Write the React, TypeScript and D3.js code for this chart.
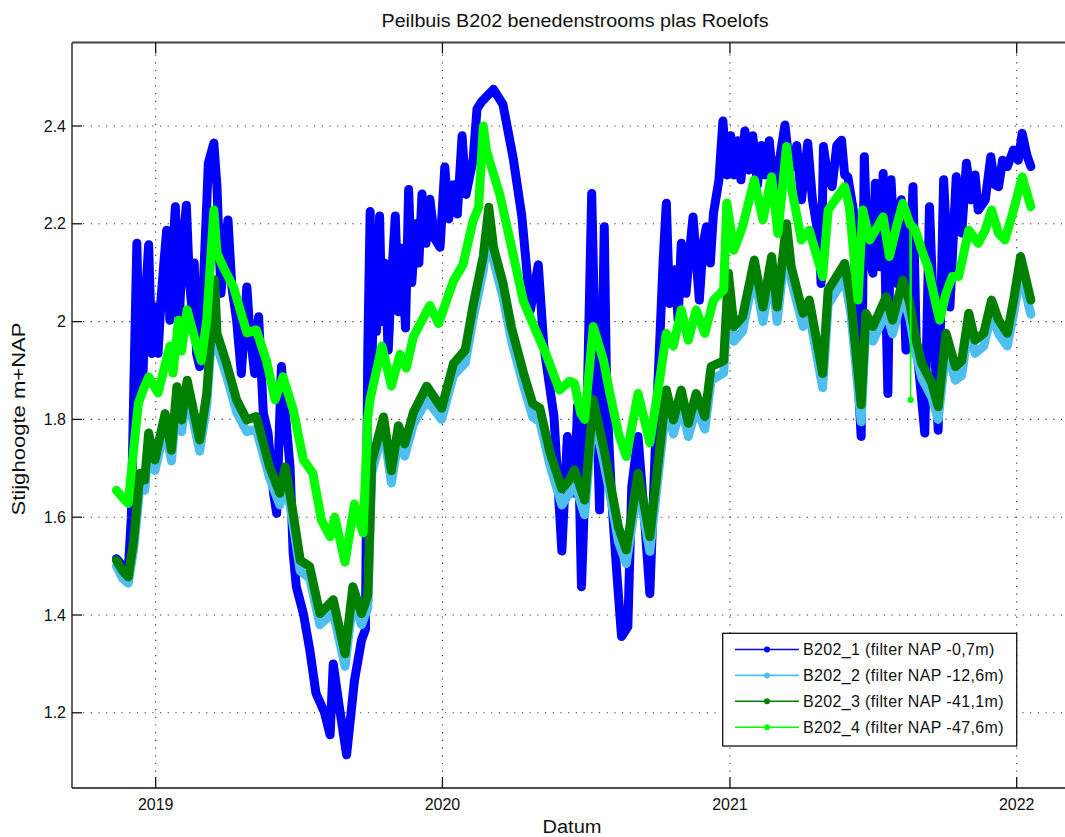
import React, { useEffect, useRef } from 'react'
import * as d3 from 'd3'

const WIDTH = 1065
const HEIGHT = 837

const title = 'Peilbuis B202 benedenstrooms plas Roelofs'
const xLabel = 'Datum'
const yLabel = 'Stijghoogte m+NAP'
const yTicks = [1.2, 1.4, 1.6, 1.8, 2, 2.2, 2.4]
const xTicks = ['2019-01-01', '2020-01-01', '2021-01-01', '2022-01-01']
const seriesNames = [
  'B202_1 (filter NAP -0,7m)',
  'B202_2 (filter NAP -12,6m)',
  'B202_3 (filter NAP -41,1m)',
  'B202_4 (filter NAP -47,6m)'
]
const seriesColors = ['#0000ff', '#4dbeee', '#007f00', '#00ff00']

// B202_1 (ondiep) - veel pieken
const b202_1: [string, number][] = [
  ['2018-11-12', 1.515], ['2018-11-20', 1.50], ['2018-11-27', 1.49], ['2018-12-01', 1.60],
  ['2018-12-04', 1.853], ['2018-12-08', 2.16], ['2018-12-12', 1.867], ['2018-12-16', 1.90],
  ['2018-12-19', 2.05], ['2018-12-23', 2.157], ['2018-12-27', 1.935], ['2018-12-31', 2.03],
  ['2019-01-04', 1.935], ['2019-01-08', 2.05], ['2019-01-11', 2.112], ['2019-01-15', 2.187],
  ['2019-01-19', 2.003], ['2019-01-22', 2.12], ['2019-01-26', 2.235], ['2019-01-31', 2.003],
  ['2019-02-04', 2.15], ['2019-02-09', 2.238], ['2019-02-13', 2.08], ['2019-02-16', 2.03],
  ['2019-02-19', 2.12], ['2019-02-22', 1.935], ['2019-02-26', 1.908], ['2019-03-02', 2.05],
  ['2019-03-07', 2.242], ['2019-03-09', 2.324], ['2019-03-16', 2.365], ['2019-03-20', 2.276],
  ['2019-03-25', 2.058], ['2019-04-03', 2.208], ['2019-04-08', 2.071], ['2019-04-14', 2.003],
  ['2019-04-20', 1.894], ['2019-04-27', 2.071], ['2019-05-01', 1.976], ['2019-05-07', 1.894],
  ['2019-05-12', 2.01], ['2019-05-18', 1.813], ['2019-05-24', 1.772], ['2019-05-31', 1.649],
  ['2019-06-04', 1.608], ['2019-06-10', 1.908], ['2019-06-15', 1.813], ['2019-06-21', 1.703],
  ['2019-06-25', 1.526], ['2019-06-29', 1.458], ['2019-07-08', 1.403], ['2019-07-16', 1.33],
  ['2019-07-24', 1.24], ['2019-08-04', 1.20], ['2019-08-11', 1.155], ['2019-08-15', 1.30],
  ['2019-08-22', 1.22], ['2019-09-01', 1.114], ['2019-09-11', 1.266], ['2019-09-20', 1.349],
  ['2019-09-25', 1.37], ['2019-09-28', 1.942], ['2019-10-01', 2.225], ['2019-10-03', 1.90],
  ['2019-10-06', 2.10], ['2019-10-09', 1.98], ['2019-10-13', 2.216], ['2019-10-16', 2.00],
  ['2019-10-19', 2.12], ['2019-10-24', 1.942], ['2019-10-28', 2.08], ['2019-11-02', 2.216],
  ['2019-11-06', 2.02], ['2019-11-10', 2.15], ['2019-11-15', 1.987], ['2019-11-19', 2.27],
  ['2019-11-23', 2.08], ['2019-11-28', 2.20], ['2019-12-02', 2.12], ['2019-12-06', 2.261],
  ['2019-12-11', 2.16], ['2019-12-16', 2.25], ['2019-12-22', 2.17], ['2019-12-29', 2.152],
  ['2020-01-04', 2.316], ['2020-01-09', 2.21], ['2020-01-15', 2.28], ['2020-01-20', 2.22],
  ['2020-01-26', 2.38], ['2020-01-31', 2.26], ['2020-02-05', 2.30], ['2020-02-09', 2.33],
  ['2020-02-14', 2.435], ['2020-02-20', 2.45], ['2020-03-06', 2.475], ['2020-03-18', 2.444],
  ['2020-03-31', 2.335], ['2020-04-11', 2.216], ['2020-04-22', 2.024], ['2020-05-02', 2.116],
  ['2020-05-09', 1.951], ['2020-05-22', 1.805], ['2020-06-01', 1.531], ['2020-06-08', 1.765],
  ['2020-06-17', 1.649], ['2020-06-21', 1.828], ['2020-06-26', 1.458], ['2020-07-02', 1.737],
  ['2020-07-09', 2.262], ['2020-07-13', 1.976], ['2020-07-19', 1.615], ['2020-07-25', 2.194],
  ['2020-07-28', 1.853], ['2020-08-03', 1.649], ['2020-08-10', 1.485], ['2020-08-16', 1.356],
  ['2020-08-24', 1.376], ['2020-08-29', 1.662], ['2020-09-06', 1.765], ['2020-09-15', 1.58],
  ['2020-09-21', 1.444], ['2020-09-29', 1.785], ['2020-10-08', 2.126], ['2020-10-12', 2.242],
  ['2020-10-16', 2.037], ['2020-10-23', 2.106], ['2020-10-27', 2.003], ['2020-10-31', 2.16],
  ['2020-11-06', 2.058], ['2020-11-11', 2.15], ['2020-11-15', 2.214], ['2020-11-23', 2.044],
  ['2020-11-28', 2.16], ['2020-12-02', 2.194], ['2020-12-07', 2.12], ['2020-12-11', 2.221],
  ['2020-12-18', 2.29], ['2020-12-23', 2.41], ['2020-12-28', 2.30], ['2021-01-02', 2.38],
  ['2021-01-06', 2.30], ['2021-01-11', 2.37], ['2021-01-15', 2.29], ['2021-01-20', 2.39],
  ['2021-01-25', 2.31], ['2021-01-30', 2.38], ['2021-02-05', 2.28], ['2021-02-10', 2.36],
  ['2021-02-15', 2.30], ['2021-02-20', 2.37], ['2021-02-27', 2.249], ['2021-03-05', 2.33],
  ['2021-03-12', 2.402], ['2021-03-17', 2.33], ['2021-03-22', 2.317], ['2021-03-27', 2.36],
  ['2021-04-02', 2.249], ['2021-04-10', 2.365], ['2021-04-16', 2.249], ['2021-04-25', 2.16],
  ['2021-04-27', 2.078], ['2021-04-30', 2.358], ['2021-05-05', 2.30], ['2021-05-11', 2.276],
  ['2021-05-17', 2.36], ['2021-05-23', 2.371], ['2021-05-27', 2.30], ['2021-05-31', 2.296],
  ['2021-06-07', 2.228], ['2021-06-13', 1.887], ['2021-06-17', 1.765], ['2021-06-21', 2.337],
  ['2021-06-25', 2.146], ['2021-07-02', 2.099], ['2021-07-05', 2.283], ['2021-07-11', 2.112],
  ['2021-07-15', 2.303], ['2021-07-21', 1.853], ['2021-07-25', 2.29], ['2021-08-01', 2.078],
  ['2021-08-07', 2.249], ['2021-08-13', 1.942], ['2021-08-22', 2.276], ['2021-08-26', 1.962],
  ['2021-09-06', 1.772], ['2021-09-12', 2.235], ['2021-09-18', 1.976], ['2021-09-23', 1.778],
  ['2021-09-30', 2.29], ['2021-10-08', 2.03], ['2021-10-16', 2.296], ['2021-10-23', 2.181],
  ['2021-10-29', 2.324], ['2021-11-04', 2.249], ['2021-11-09', 2.30], ['2021-11-13', 2.228],
  ['2021-11-22', 2.249], ['2021-11-29', 2.337], ['2021-12-04', 2.28], ['2021-12-09', 2.276],
  ['2021-12-14', 2.33], ['2021-12-20', 2.317], ['2021-12-28', 2.351], ['2022-01-03', 2.33],
  ['2022-01-08', 2.385], ['2022-01-14', 2.34], ['2022-01-19', 2.317]
]

// B202_2
const b202_2: [string, number][] = [
  ['2018-11-12', 1.50], ['2018-11-20', 1.475], ['2018-11-27', 1.465], ['2018-12-04', 1.535],
  ['2018-12-12', 1.665], ['2018-12-18', 1.655], ['2018-12-23', 1.745], ['2018-12-31', 1.695],
  ['2019-01-13', 1.785], ['2019-01-21', 1.715], ['2019-01-28', 1.84], ['2019-02-03', 1.775],
  ['2019-02-10', 1.855], ['2019-02-26', 1.735], ['2019-03-07', 1.83], ['2019-03-17', 2.06],
  ['2019-03-20', 1.95], ['2019-04-01', 1.89], ['2019-04-14', 1.815], ['2019-04-27', 1.775],
  ['2019-05-09', 1.78], ['2019-05-26', 1.68], ['2019-06-08', 1.625], ['2019-06-15', 1.68],
  ['2019-06-23', 1.605], ['2019-07-04', 1.49], ['2019-07-16', 1.475], ['2019-07-29', 1.38],
  ['2019-08-15', 1.405], ['2019-08-30', 1.295], ['2019-09-09', 1.43], ['2019-09-20', 1.38],
  ['2019-09-28', 1.415], ['2019-10-03', 1.69], ['2019-10-18', 1.78], ['2019-10-28', 1.67],
  ['2019-11-06', 1.76], ['2019-11-14', 1.725], ['2019-11-25', 1.79], ['2019-12-12', 1.84],
  ['2019-12-31', 1.80], ['2020-01-15', 1.89], ['2020-01-30', 1.915], ['2020-02-09', 2.005],
  ['2020-02-22', 2.105], ['2020-02-29', 2.20], ['2020-03-06', 2.125], ['2020-03-18', 2.05],
  ['2020-03-29', 1.96], ['2020-04-13', 1.87], ['2020-04-25', 1.805], ['2020-05-04', 1.795],
  ['2020-05-17', 1.705], ['2020-06-01', 1.625], ['2020-06-11', 1.65], ['2020-06-17', 1.67],
  ['2020-06-30', 1.605], ['2020-07-11', 1.815], ['2020-07-24', 1.715], ['2020-08-01', 1.65],
  ['2020-08-12', 1.55], ['2020-08-22', 1.505], ['2020-09-06', 1.665], ['2020-09-15', 1.585],
  ['2020-09-21', 1.53], ['2020-10-02', 1.69], ['2020-10-12', 1.83], ['2020-10-21', 1.77],
  ['2020-10-31', 1.83], ['2020-11-09', 1.765], ['2020-11-19', 1.825], ['2020-11-30', 1.78],
  ['2020-12-08', 1.88], ['2020-12-24', 1.895], ['2020-12-30', 2.07], ['2021-01-06', 1.96],
  ['2021-01-17', 1.98], ['2021-02-01', 2.10], ['2021-02-12', 2.00], ['2021-02-23', 2.105],
  ['2021-03-02', 2.00], ['2021-03-14', 2.17], ['2021-03-20', 2.085], ['2021-04-04', 1.99],
  ['2021-04-12', 2.015], ['2021-04-29', 1.865], ['2021-05-06', 2.035], ['2021-05-27', 2.09],
  ['2021-06-04', 2.015], ['2021-06-17', 1.795], ['2021-06-23', 1.99], ['2021-07-02', 1.96],
  ['2021-07-19', 2.02], ['2021-07-27', 1.975], ['2021-08-09', 2.055], ['2021-08-18', 2.005],
  ['2021-08-25', 1.94], ['2021-09-02', 1.885], ['2021-09-15', 1.845], ['2021-09-23', 1.80],
  ['2021-10-03', 1.945], ['2021-10-15', 1.88], ['2021-10-23', 1.89], ['2021-11-01', 1.99],
  ['2021-11-09', 1.935], ['2021-11-20', 1.95], ['2021-11-30', 2.015], ['2021-12-09', 1.975],
  ['2021-12-20', 1.95], ['2021-12-28', 2.015], ['2022-01-06', 2.10], ['2022-01-19', 2.015]
]

// B202_3
const b202_3: [string, number][] = [
  ['2018-11-12', 1.512], ['2018-11-20', 1.49], ['2018-11-27', 1.478], ['2018-12-04', 1.553],
  ['2018-12-12', 1.69], ['2018-12-18', 1.676], ['2018-12-23', 1.772], ['2018-12-31', 1.717],
  ['2019-01-13', 1.812], ['2019-01-21', 1.737], ['2019-01-28', 1.867], ['2019-02-03', 1.799],
  ['2019-02-10', 1.88], ['2019-02-26', 1.758], ['2019-03-07', 1.853], ['2019-03-17', 2.085],
  ['2019-03-20', 1.976], ['2019-04-01', 1.915], ['2019-04-14', 1.84], ['2019-04-27', 1.799],
  ['2019-05-09', 1.806], ['2019-05-26', 1.703], ['2019-06-08', 1.649], ['2019-06-15', 1.703],
  ['2019-06-23', 1.628], ['2019-07-04', 1.512], ['2019-07-16', 1.499], ['2019-07-29', 1.403],
  ['2019-08-15', 1.431], ['2019-08-30', 1.321], ['2019-09-09', 1.458], ['2019-09-20', 1.403],
  ['2019-09-28', 1.44], ['2019-10-03', 1.713], ['2019-10-18', 1.805], ['2019-10-28', 1.695],
  ['2019-11-06', 1.787], ['2019-11-14', 1.75], ['2019-11-25', 1.814], ['2019-12-12', 1.868],
  ['2019-12-31', 1.823], ['2020-01-15', 1.914], ['2020-01-30', 1.942], ['2020-02-09', 2.033],
  ['2020-02-22', 2.134], ['2020-02-29', 2.234], ['2020-03-06', 2.152], ['2020-03-18', 2.079],
  ['2020-03-29', 1.987], ['2020-04-13', 1.896], ['2020-04-25', 1.832], ['2020-05-04', 1.823],
  ['2020-05-17', 1.732], ['2020-06-01', 1.658], ['2020-06-11', 1.677], ['2020-06-17', 1.697],
  ['2020-06-30', 1.635], ['2020-07-11', 1.84], ['2020-07-24', 1.744], ['2020-08-01', 1.676],
  ['2020-08-12', 1.58], ['2020-08-22', 1.533], ['2020-09-06', 1.69], ['2020-09-15', 1.615],
  ['2020-09-21', 1.56], ['2020-10-02', 1.717], ['2020-10-12', 1.86], ['2020-10-21', 1.799],
  ['2020-10-31', 1.86], ['2020-11-09', 1.792], ['2020-11-19', 1.853], ['2020-11-30', 1.806],
  ['2020-12-08', 1.908], ['2020-12-24', 1.92], ['2020-12-30', 2.099], ['2021-01-06', 1.99],
  ['2021-01-17', 2.01], ['2021-02-01', 2.126], ['2021-02-12', 2.03], ['2021-02-23', 2.133],
  ['2021-03-02', 2.03], ['2021-03-14', 2.20], ['2021-03-20', 2.112], ['2021-04-04', 2.017],
  ['2021-04-12', 2.044], ['2021-04-29', 1.894], ['2021-05-06', 2.065], ['2021-05-27', 2.119],
  ['2021-06-04', 2.044], ['2021-06-17', 1.83], ['2021-06-23', 2.017], ['2021-07-02', 1.99],
  ['2021-07-19', 2.051], ['2021-07-27', 2.003], ['2021-08-09', 2.085], ['2021-08-18', 2.037],
  ['2021-08-25', 1.969], ['2021-09-02', 1.915], ['2021-09-15', 1.874], ['2021-09-23', 1.826],
  ['2021-10-03', 1.976], ['2021-10-15', 1.908], ['2021-10-23', 1.92], ['2021-11-01', 2.017],
  ['2021-11-09', 1.962], ['2021-11-20', 1.976], ['2021-11-30', 2.044], ['2021-12-09', 2.003],
  ['2021-12-20', 1.976], ['2021-12-28', 2.044], ['2022-01-06', 2.133], ['2022-01-19', 2.044]
]

// B202_4
const b202_4: [string, number][] = [
  ['2018-11-12', 1.655], ['2018-11-20', 1.64], ['2018-11-27', 1.628], ['2018-12-04', 1.74],
  ['2018-12-10', 1.833], ['2018-12-16', 1.86], ['2018-12-23', 1.887], ['2019-01-04', 1.854],
  ['2019-01-19', 1.95], ['2019-01-23', 1.895], ['2019-01-30', 2.003], ['2019-02-03', 1.94],
  ['2019-02-10', 2.024], ['2019-02-24', 1.94], ['2019-02-28', 1.92], ['2019-03-07', 2.003],
  ['2019-03-16', 2.228], ['2019-03-20', 2.14], ['2019-03-30', 2.105], ['2019-04-10', 2.071],
  ['2019-04-27', 1.977], ['2019-05-09', 1.983], ['2019-05-22', 1.92], ['2019-06-02', 1.84],
  ['2019-06-12', 1.887], ['2019-06-25', 1.82], ['2019-07-08', 1.717], ['2019-07-20', 1.69],
  ['2019-07-31', 1.594], ['2019-08-11', 1.56], ['2019-08-17', 1.60], ['2019-08-30', 1.508],
  ['2019-09-11', 1.627], ['2019-09-22', 1.568], ['2019-09-28', 1.805], ['2019-10-01', 1.842],
  ['2019-10-16', 1.95], ['2019-10-28', 1.868], ['2019-11-08', 1.933], ['2019-11-16', 1.905],
  ['2019-11-25', 1.969], ['2019-12-16', 2.033], ['2019-12-27', 1.996], ['2020-01-15', 2.083],
  ['2020-01-27', 2.116], ['2020-02-09', 2.206], ['2020-02-16', 2.234], ['2020-02-22', 2.40],
  ['2020-02-26', 2.35], ['2020-03-14', 2.26], ['2020-03-29', 2.152], ['2020-04-13', 2.042],
  ['2020-04-25', 1.996], ['2020-05-12', 1.933], ['2020-05-29', 1.86], ['2020-06-11', 1.878],
  ['2020-06-17', 1.874], ['2020-06-25', 1.813], ['2020-06-30', 1.80], ['2020-07-11', 1.99],
  ['2020-07-24', 1.921], ['2020-08-01', 1.854], ['2020-08-12', 1.772], ['2020-08-22', 1.724],
  ['2020-09-06', 1.853], ['2020-09-15', 1.793], ['2020-09-21', 1.752], ['2020-10-04', 1.887],
  ['2020-10-12', 1.976], ['2020-10-21', 1.95], ['2020-10-31', 2.024], ['2020-11-09', 1.962],
  ['2020-11-19', 2.024], ['2020-11-30', 1.976], ['2020-12-11', 2.044], ['2020-12-24', 2.065],
  ['2020-12-28', 2.242], ['2021-01-06', 2.146], ['2021-01-17', 2.194], ['2021-02-01', 2.29],
  ['2021-02-12', 2.208], ['2021-02-23', 2.296], ['2021-03-03', 2.18], ['2021-03-14', 2.358],
  ['2021-03-20', 2.276], ['2021-04-02', 2.167], ['2021-04-12', 2.187], ['2021-04-29', 2.092],
  ['2021-05-06', 2.228], ['2021-05-27', 2.276], ['2021-06-02', 2.235], ['2021-06-13', 2.044],
  ['2021-06-19', 2.228], ['2021-06-28', 2.167], ['2021-07-15', 2.214], ['2021-07-23', 2.133],
  ['2021-08-01', 2.194], ['2021-08-09', 2.242], ['2021-08-18', 2.20], ['2021-08-25', 2.187],
  ['2021-09-02', 2.146], ['2021-09-10', 2.112], ['2021-09-19', 2.044], ['2021-09-25', 2.003],
  ['2021-10-03', 2.058], ['2021-10-11', 2.092], ['2021-10-19', 2.092], ['2021-11-01', 2.187],
  ['2021-11-13', 2.16], ['2021-11-22', 2.187], ['2021-11-30', 2.228], ['2021-12-09', 2.18],
  ['2021-12-17', 2.167], ['2021-12-28', 2.228], ['2022-01-08', 2.296], ['2022-01-19', 2.235]
]

// losse uitschieter in B202_4
const b202_4Spike: [string, number][] = [['2021-08-18', 2.20], ['2021-08-19', 1.84], ['2021-08-20', 2.19]]

const FONT = '"Liberation Sans", Arial, Helvetica, sans-serif'

function App() {
  const ref = useRef<SVGSVGElement | null>(null)

  useEffect(() => {
    const node = ref.current
    if (!node) return
    const vis = d3.select(node)
    vis.selectAll('*').remove()

    const MARGINS = { left: 72, top: 42.5, right: 1080, bottom: 788 }
    const parse = d3.utcParse('%Y-%m-%d')

    const xRange = d3.scaleUtc()
      .domain([parse('2019-01-01') as Date, parse('2022-01-01') as Date])
      .range([155.7, 1016.7])
    const yRange = d3.scaleLinear().domain([1.2, 2.4]).range([712.8, 126])

    vis.append('defs').append('clipPath').attr('id', 'plotclip')
      .append('rect')
      .attr('x', MARGINS.left).attr('y', MARGINS.top)
      .attr('width', MARGINS.right - MARGINS.left).attr('height', MARGINS.bottom - MARGINS.top)

    // grid
    const grid = vis.append('g').attr('stroke', '#333').attr('stroke-width', 1.1).attr('stroke-dasharray', '1.2,6.5')
    yTicks.forEach(t => {
      grid.append('line')
        .attr('x1', MARGINS.left + 11).attr('x2', MARGINS.right)
        .attr('y1', yRange(t)).attr('y2', yRange(t))
    })
    xTicks.forEach(t => {
      const xp = xRange(parse(t) as Date)
      grid.append('line')
        .attr('x1', xp).attr('x2', xp)
        .attr('y1', MARGINS.top + 12).attr('y2', MARGINS.bottom - 11)
    })

    // series
    const valueline = d3.line<[string, number]>()
      .x(d => xRange(parse(d[0]) as Date))
      .y(d => yRange(d[1]))

    const plot = vis.append('g').attr('clip-path', 'url(#plotclip)')
    const allSeries = [b202_1, b202_2, b202_3, b202_4]
    allSeries.forEach((data, i) => {
      plot.append('path')
        .datum(data)
        .attr('d', valueline)
        .attr('fill', 'none')
        .attr('stroke', seriesColors[i])
        .attr('stroke-width', 9)
        .attr('stroke-linejoin', 'round')
        .attr('stroke-linecap', 'round')
    })

    plot.append('path')
      .datum(b202_4Spike)
      .attr('d', valueline)
      .attr('fill', 'none')
      .attr('stroke', seriesColors[3])
      .attr('stroke-width', 1.3)
    plot.append('circle')
      .attr('cx', xRange(parse(b202_4Spike[1][0]) as Date))
      .attr('cy', yRange(b202_4Spike[1][1]))
      .attr('r', 3.2)
      .attr('fill', seriesColors[3])

    // axes box
    const axes = vis.append('g').attr('stroke', '#111').attr('stroke-width', 1.3)
    axes.append('line').attr('x1', MARGINS.left).attr('x2', MARGINS.left).attr('y1', MARGINS.top).attr('y2', MARGINS.bottom)
    axes.append('line').attr('x1', MARGINS.left).attr('x2', MARGINS.right).attr('y1', MARGINS.bottom).attr('y2', MARGINS.bottom)
    axes.append('line').attr('x1', MARGINS.left).attr('x2', MARGINS.right).attr('y1', MARGINS.top).attr('y2', MARGINS.top)
      .attr('stroke', '#444').attr('stroke-width', 2)

    yTicks.forEach(t => {
      axes.append('line').attr('x1', MARGINS.left).attr('x2', MARGINS.left + 10).attr('y1', yRange(t)).attr('y2', yRange(t))
      vis.append('text')
        .attr('x', MARGINS.left - 6).attr('y', yRange(t))
        .attr('dy', '0.35em')
        .attr('text-anchor', 'end')
        .style('font-family', FONT).style('font-size', '16px').attr('fill', '#111')
        .text(String(t))
    })
    xTicks.forEach(t => {
      const xp = xRange(parse(t) as Date)
      axes.append('line').attr('x1', xp).attr('x2', xp).attr('y1', MARGINS.bottom).attr('y2', MARGINS.bottom - 11)
      axes.append('line').attr('x1', xp).attr('x2', xp).attr('y1', MARGINS.top).attr('y2', MARGINS.top + 11)
      vis.append('text')
        .attr('x', xp).attr('y', 810)
        .attr('text-anchor', 'middle')
        .style('font-family', FONT).style('font-size', '16px').attr('fill', '#111')
        .text(t.slice(0, 4))
    })

    // titles
    vis.append('text')
      .attr('x', 575).attr('y', 27)
      .attr('text-anchor', 'middle')
      .attr('textLength', 387).attr('lengthAdjust', 'spacingAndGlyphs')
      .style('font-family', FONT).style('font-size', '18px').attr('fill', '#111')
      .text(title)
    vis.append('text')
      .attr('x', 572).attr('y', 833)
      .attr('text-anchor', 'middle')
      .attr('textLength', 59).attr('lengthAdjust', 'spacingAndGlyphs')
      .style('font-family', FONT).style('font-size', '18px').attr('fill', '#111')
      .text(xLabel)
    vis.append('text')
      .attr('transform', 'translate(25,419) rotate(-90)')
      .attr('text-anchor', 'middle')
      .attr('textLength', 193).attr('lengthAdjust', 'spacingAndGlyphs')
      .style('font-family', FONT).style('font-size', '18px').attr('fill', '#111')
      .text(yLabel)

    // legend
    const legend = vis.append('g')
    legend.append('rect')
      .attr('x', 722.7).attr('y', 633.3).attr('width', 294).attr('height', 112.7)
      .attr('fill', '#fff').attr('stroke', '#111').attr('stroke-width', 1.3)
    seriesNames.forEach((name, i) => {
      const ly = 649.5 + i * 25.9
      legend.append('line')
        .attr('x1', 735).attr('x2', 799).attr('y1', ly).attr('y2', ly)
        .attr('stroke', seriesColors[i]).attr('stroke-width', 1.6)
      legend.append('circle')
        .attr('cx', 767).attr('cy', ly).attr('r', 3)
        .attr('fill', seriesColors[i])
      legend.append('text')
        .attr('x', 803).attr('y', ly).attr('dy', '0.35em')
        .style('font-family', FONT).style('font-size', '16px').style('letter-spacing', '0.35px')
        .attr('fill', '#111')
        .text(name)
    })
  }, [])

  return (
    <>
      <style>{'body{margin:0;background:#fff}'}</style>
      <svg ref={ref} width={WIDTH} height={HEIGHT} style={{ display: 'block' }} />
    </>
  )
}

export default App
